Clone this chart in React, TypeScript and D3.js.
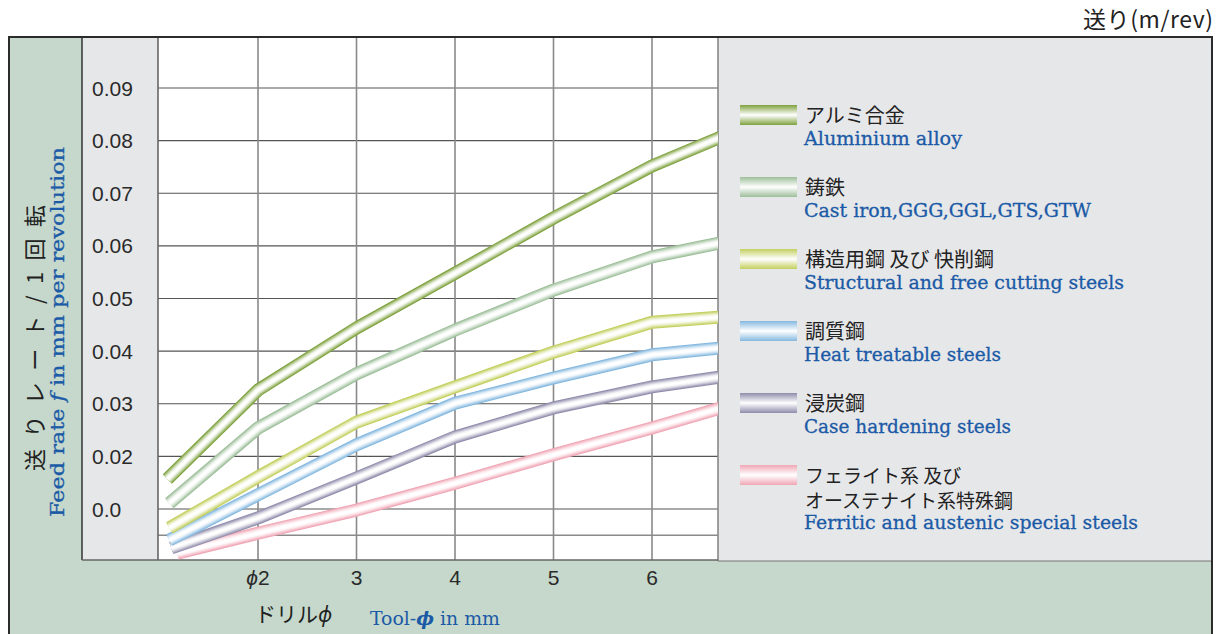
import * as d3 from 'd3';
import React from 'react';

// tool diameter (mm) sampled along each curve; first entry is where the curve starts
const toolDia = [2, 3, 4, 5, 6, 6.7];
const startDia = [1.08, 1.1, 1.1, 1.1, 1.12, 1.18];

// feed rate (m/rev)
const aluminium = [0.0157, 0.0326, 0.0444, 0.0548, 0.0653, 0.0752, 0.0807];
const castIron = [0.0111, 0.0254, 0.0357, 0.044, 0.0516, 0.0579, 0.0606];
const structural = [0.0064, 0.0161, 0.0265, 0.0332, 0.0398, 0.0455, 0.0465];
const heatTreat = [0.0041, 0.0127, 0.0222, 0.0301, 0.0349, 0.0393, 0.0406];
const caseHard = [0.0026, 0.0083, 0.0159, 0.0237, 0.0292, 0.0332, 0.0351];
const ferritic = [0.0016, 0.0054, 0.0098, 0.0149, 0.0203, 0.0254, 0.0292];

const yTicks = [0.01, 0.02, 0.03, 0.04, 0.05, 0.06, 0.07, 0.08, 0.09];
const yTickLabels = ['0.0', '0.02', '0.03', '0.04', '0.05', '0.06', '0.07', '0.08', '0.09'];
const yMinor = [0.005];
const xTicks = [2, 3, 4, 5, 6];
const xTickLabels = ['2', '3', '4', '5', '6'];

const seriesJa = [['アルミ合金'], ['鋳鉄'], ['構造用鋼 及び 快削鋼'], ['調質鋼'], ['浸炭鋼'], ['フェライト系 及び', 'オーステナイト系特殊鋼']];
const seriesEn = ['Aluminium alloy', 'Cast iron,GGG,GGL,GTS,GTW', 'Structural and free cutting steels', 'Heat treatable steels', 'Case hardening steels', 'Ferritic and austenic special steels'];
const seriesEnWidth = [158, 287, 320, 197, 207, 334];
const seriesColor = ['#7fa23f', '#9dbf9a', '#c3cf5e', '#84b8df', '#8f8cab', '#f0a6b5'];
const seriesValues = [aluminium, castIron, structural, heatTreat, caseHard, ferritic];

const JA = '"Noto Sans CJK JP", "Noto Sans", sans-serif';
const EN = '"DejaVu Serif", "Liberation Serif", serif';
const NUM = '"Liberation Sans", Arial, sans-serif';
const BLUE = '#1b5aa6';
const PHI = '\u03d5';

const plot = { left: 158, right: 718, top: 37, bottom: 560 };

const App: React.FC = () => {
  const x = d3.scaleLinear().domain([1, 6]).range([159.5, 652]);
  const y = d3.scaleLinear().domain([0.01, 0.09]).range([509, 88]);

  const line = d3.line<[number, number]>()
    .x(d => x(d[0]))
    .y(d => y(d[1]));

  // stacked strokes give the tube look: dark rim, white core
  const layers = [
    { w: 13, t: 0 },
    { w: 11, t: 0.25 },
    { w: 9, t: 0.5 },
    { w: 7, t: 0.72 },
    { w: 5, t: 0.9 },
    { w: 2.5, t: 1 },
  ];

  const order = d3.range(seriesValues.length).reverse();

  return (
    <svg width={1221} height={634} style={{ position: 'absolute', left: 0, top: 0 }}>
      <defs>
        <clipPath id="plotClip">
          <rect x={plot.left} y={plot.top} width={plot.right - plot.left} height={plot.bottom - plot.top} />
        </clipPath>
        {seriesColor.map((c, i) => (
          <linearGradient key={i} id={`sw${i}`} x1="0" y1="0" x2="0" y2="1">
            <stop offset="0%" stopColor={c} />
            <stop offset="50%" stopColor="#ffffff" />
            <stop offset="100%" stopColor={c} />
          </linearGradient>
        ))}
      </defs>

      <rect x={0} y={0} width={1221} height={634} fill="#fff" />

      {/* panels */}
      <rect x={9} y={37} width={1203} height={610} fill="#c5d8cb" />
      <rect x={82} y={37} width={76} height={523} fill="#e6e7e9" />
      <rect x={plot.left} y={plot.top} width={plot.right - plot.left} height={plot.bottom - plot.top} fill="#fff" />
      <rect x={718} y={37} width={494} height={524} fill="#e6e7e9" />

      {/* grid */}
      {yMinor.map(v => (
        <line key={`m${v}`} x1={plot.left} x2={plot.right} y1={y(v)} y2={y(v)} stroke="#8a8a8a" strokeWidth={1.5} />
      ))}
      {yTicks.map(v => (
        <line key={`h${v}`} x1={plot.left} x2={plot.right} y1={y(v)} y2={y(v)} stroke="#555" strokeWidth={1.2} />
      ))}
      {xTicks.map(v => (
        <line key={`v${v}`} x1={x(v)} x2={x(v)} y1={plot.top} y2={plot.bottom} stroke="#8a8a8a" strokeWidth={1.6} />
      ))}
      <line x1={plot.left} x2={plot.left} y1={plot.top} y2={plot.bottom} stroke="#666" strokeWidth={1.6} />
      <line x1={plot.right} x2={plot.right} y1={plot.top} y2={561} stroke="#888" strokeWidth={1.6} />
      <line x1={82} x2={82} y1={plot.top} y2={560} stroke="#333" strokeWidth={1.5} />
      <line x1={82} x2={plot.right} y1={560} y2={560} stroke="#666" strokeWidth={1.6} />
      <line x1={plot.right} x2={1212} y1={561} y2={561} stroke="#777" strokeWidth={1.2} />

      {/* curves */}
      <g clipPath="url(#plotClip)">
        {order.map(i => {
          const pts: [number, number][] = [startDia[i], ...toolDia].map((d, k) => [d, seriesValues[i][k]]);
          const path = line(pts) || '';
          return (
            <g key={i}>
              {layers.map((l, k) => (
                <path
                  key={k}
                  d={path}
                  fill="none"
                  stroke={d3.interpolateRgb(seriesColor[i], '#ffffff')(l.t)}
                  strokeWidth={l.w}
                  strokeLinejoin="round"
                  strokeLinecap="butt"
                />
              ))}
            </g>
          );
        })}
      </g>

      {/* outer frame */}
      <rect x={9} y={37} width={1203} height={620} fill="none" stroke="#2b2b2b" strokeWidth={2} />

      {/* y tick labels */}
      {yTicks.map((v, i) => (
        <text key={`yl${v}`} x={92} y={y(v)} dy="0.36em" fontFamily={NUM} fontSize={21} fill="#2a2a2a">
          {yTickLabels[i]}
        </text>
      ))}

      {/* x tick labels */}
      {xTicks.map((v, i) => (
        <text key={`xl${v}`} x={x(v)} y={585} textAnchor="middle" fontFamily={NUM} fontSize={21} fill="#2a2a2a">
          {i === 0 ? <tspan fontStyle="italic">{PHI}</tspan> : null}
          {xTickLabels[i]}
        </text>
      ))}

      {/* axis titles */}
      <text x={255} y={622} fontFamily={JA} fontSize={21} fill="#222">
        ドリル<tspan fontStyle="italic">{PHI}</tspan>
      </text>
      <text x={370} y={625} fontFamily={EN} fontSize={18} fill={BLUE} textLength={130} lengthAdjust="spacingAndGlyphs">
        Tool-<tspan fontWeight="bold" fontStyle="italic">{PHI}</tspan> in mm
      </text>

      <g transform="translate(43,338) rotate(-90)">
        <text x={0} y={0} textAnchor="middle" fontFamily={JA} fontSize={22} fill="#222" textLength={266} lengthAdjust="spacing">
          送りレート/1回転
        </text>
      </g>
      <g transform="translate(64,332) rotate(-90)">
        <text x={0} y={0} textAnchor="middle" fontFamily={EN} fontSize={18} fill={BLUE} stroke={BLUE} strokeWidth={0.3}
          textLength={370} lengthAdjust="spacingAndGlyphs">
          Feed rate <tspan fontStyle="italic">f</tspan> in mm per revolution
        </text>
      </g>

      {/* unit */}
      <text x={1213} y={28} textAnchor="end" fontFamily={JA} fontSize={23} fill="#222" textLength={130} lengthAdjust="spacing">
        送り(m/rev)
      </text>

      {/* legend */}
      {seriesColor.map((c, i) => {
        const cy = 115 + i * 72;
        const ja = seriesJa[i];
        return (
          <g key={`lg${i}`}>
            <rect x={740} y={cy - 10} width={57} height={20} fill={`url(#sw${i})`} />
            <text x={805} y={cy + 8} fontFamily={JA} fontSize={ja.length > 1 ? 19 : 20} fill="#222">
              {ja.map((t, k) => (
                <tspan key={k} x={805} dy={k === 0 ? 0 : 25}>{t}</tspan>
              ))}
            </text>
            <text
              x={804}
              y={cy + 30 + (ja.length - 1) * 24}
              fontFamily={EN}
              fontSize={18}
              fill={BLUE}
              stroke={BLUE}
              strokeWidth={0.3}
              textLength={seriesEnWidth[i]}
              lengthAdjust="spacingAndGlyphs"
            >
              {seriesEn[i]}
            </text>
          </g>
        );
      })}
    </svg>
  );
};

export default App;
